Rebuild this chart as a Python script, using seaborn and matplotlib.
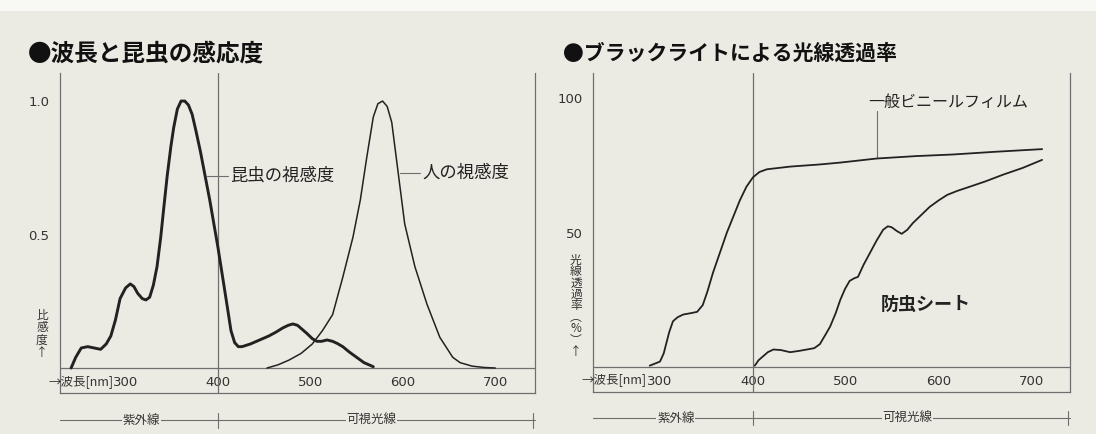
import numpy as np
import pandas as pd
import matplotlib
matplotlib.use("Agg")
import matplotlib.pyplot as plt
from matplotlib.patches import Rectangle
import seaborn as sns

sns.set_style("white")
JP = ["Noto Sans CJK JP", "DejaVu Sans"]
plt.rcParams["font.family"] = JP
plt.rcParams["lines.solid_joinstyle"] = "round"
plt.rcParams["lines.solid_capstyle"] = "round"

# ---------------- data ----------------
insect_nm = [241, 246, 252, 259, 266, 273, 279, 284, 289, 294, 300, 305, 309, 313, 318, 322, 326, 330,
             334, 338, 341, 345, 349, 352, 356, 360, 364, 368, 372, 376, 381, 386, 391, 395, 400, 405,
             410, 414, 418, 422, 426, 435, 445, 455, 463, 470, 476, 481, 486, 491, 496, 502, 507, 512,
             518, 524, 529, 535, 542, 550, 558, 568]
insect_val = [0.0, 0.04, 0.075, 0.08, 0.075, 0.07, 0.09, 0.12, 0.18, 0.26, 0.30, 0.315, 0.305, 0.28, 0.26,
              0.255, 0.265, 0.31, 0.38, 0.49, 0.59, 0.72, 0.83, 0.90, 0.97, 1.0, 1.0, 0.985, 0.95, 0.89,
              0.81, 0.72, 0.63, 0.55, 0.45, 0.34, 0.23, 0.14, 0.095, 0.08, 0.08, 0.09, 0.105, 0.12, 0.135,
              0.15, 0.16, 0.165, 0.16, 0.145, 0.13, 0.11, 0.1, 0.1, 0.105, 0.1, 0.092, 0.08, 0.06, 0.04,
              0.02, 0.005]

human_nm = [453, 465, 477, 490, 502, 513, 524, 535, 546, 554, 561, 568, 573, 578, 583, 588, 595, 602,
            613, 626, 640, 654, 662, 675, 688, 700]
human_val = [0.0, 0.012, 0.03, 0.055, 0.09, 0.14, 0.2, 0.34, 0.49, 0.63, 0.79, 0.94, 0.99, 1.0, 0.98,
             0.92, 0.73, 0.54, 0.38, 0.24, 0.115, 0.04, 0.02, 0.007, 0.002, 0.0]

film_nm = [289, 300, 304, 307, 310, 314, 319, 325, 333, 340, 346, 351, 357, 364, 372, 379, 386, 393,
           400, 407, 415, 440, 472, 494, 533, 575, 615, 660, 711]
film_val = [0.5, 2, 5, 9, 13, 17, 18.5, 19.5, 20, 20.5, 23, 28, 35, 42, 50, 56, 62, 67, 70.5, 72.5,
            73.5, 74.5, 75.3, 76, 77.5, 78.4, 79, 80, 81]

sheet_nm = [402, 406, 411, 416, 422, 430, 440, 450, 458, 466, 472, 478, 483, 489, 494, 499, 504, 509,
            513, 519, 526, 533, 540, 545, 549, 555, 560, 566, 572, 581, 590, 600, 609, 620, 633, 650,
            669, 690, 711]
sheet_val = [0.5, 2.5, 4, 5.5, 6.5, 6.3, 5.5, 6, 6.5, 7, 8.5, 12, 15, 20, 25, 29, 32, 33, 33.5, 38,
             42.5, 47, 51, 52.3, 52, 50.5, 49.5, 51, 53.5, 56.5, 59.5, 62, 64, 65.5, 67, 69, 71.5, 74, 77]

x_ticks = [300, 400, 500, 600, 700]
left_yticks = [0.5, 1.0]
left_yticklabels = ["0.5", "1.0"]
right_yticks = [50, 100]
right_yticklabels = ["50", "100"]

title_left = "●波長と昆虫の感応度"
title_right = "●ブラックライトによる光線透過率"
lab_insect = "昆虫の視感度"
lab_human = "人の視感度"
lab_film = "一般ビニールフィルム"
lab_sheet = "防虫シート"
ylab_left = "比\n感\n度\n↑"
ylab_right = "光\n線\n透\n過\n率\n︵\n%\n︶\n↑"
xlab = "→波長[nm]"
band_uv = "紫外線"
band_vis = "可視光線"

# ---------------- style ----------------
BG = "#ecebe3"
INK = "#222222"
AX = "#6e6e6e"
W, H = 1096, 434

fig = plt.figure(figsize=(W / 100, H / 100), dpi=100, facecolor=BG)
fig.patches.append(Rectangle((0, 1 - 11 / H), 1, 11 / H, transform=fig.transFigure,
                             facecolor="#f8f8f5", edgecolor="none", zorder=0))


def px_axes(x0, x1, ytop, ybot):
    return fig.add_axes([x0 / W, (H - ybot) / H, (x1 - x0) / W, (ybot - ytop) / H])


axL = px_axes(60, 535, 73, 393)
axR = px_axes(593, 1070, 73, 392)


def style_axes(ax, xlim, ylim, yticks, yticklabels):
    ax.set_facecolor(BG)
    ax.set_xlim(*xlim)
    ax.set_ylim(*ylim)
    for s in ["left", "right", "bottom"]:
        ax.spines[s].set_color(AX)
        ax.spines[s].set_linewidth(0.9)
    ax.spines["top"].set_visible(False)
    ax.axhline(0, color=AX, lw=0.9, zorder=1)
    ax.axvline(400, color=AX, lw=0.9, zorder=1)
    ax.set_xticks(x_ticks)
    ax.set_xticklabels([str(v) for v in x_ticks], family="DejaVu Sans")
    ax.tick_params(axis="x", direction="in", length=11, width=0.8, color=AX,
                   pad=-12, labelsize=9.5, labelcolor="#333333")
    ax.set_yticks(yticks)
    ax.set_yticklabels(yticklabels, family="DejaVu Sans")
    ax.tick_params(axis="y", direction="out", length=6, width=0.8, color=AX,
                   pad=1.5, labelsize=9.5, labelcolor="#333333")


style_axes(axL, (229, 743), (-0.0936, 1.105), left_yticks, left_yticklabels)
style_axes(axR, (228, 741), (-9.3, 109.3), right_yticks, right_yticklabels)

# ---------------- curves ----------------
sns.lineplot(x=insect_nm, y=insect_val, ax=axL, estimator=None, sort=False, color=INK, lw=2.1, zorder=3)
sns.lineplot(x=human_nm, y=human_val, ax=axL, estimator=None, sort=False, color=INK, lw=1.1, zorder=3)
sns.lineplot(x=film_nm, y=film_val, ax=axR, estimator=None, sort=False, color=INK, lw=1.3, zorder=3)
sns.lineplot(x=sheet_nm, y=sheet_val, ax=axR, estimator=None, sort=False, color=INK, lw=1.3, zorder=3)
for ax in (axL, axR):
    ax.set_xlabel("")
    ax.set_ylabel("")

# ---------------- annotations ----------------
axL.plot([388, 411], [0.72, 0.72], color=AX, lw=0.8)
axL.text(413, 0.72, lab_insect, fontsize=12.5, color=INK, va="center", ha="left")
axL.plot([597, 619], [0.73, 0.73], color=AX, lw=0.8)
axL.text(621, 0.73, lab_human, fontsize=12.5, color=INK, va="center", ha="left")

axR.plot([533, 533], [77.6, 95], color=AX, lw=0.8)
axR.text(524, 98.5, lab_film, fontsize=11.5, color=INK, va="center", ha="left")
axR.text(537, 23.3, lab_sheet, fontsize=13, color=INK, va="center", ha="left", fontweight="bold")

axL.text(286.5, -0.052, xlab, fontsize=9, color="#333333", ha="right", va="center", clip_on=False)
axR.text(286, -4.8, xlab, fontsize=9, color="#333333", ha="right", va="center", clip_on=False)

fig.text(42 / W, (H - 334) / H, ylab_left, fontsize=8.5, color="#333333", ha="center", va="center",
         linespacing=0.95)
fig.text(576 / W, (H - 306) / H, ylab_right, fontsize=8.5, color="#333333", ha="center", va="center",
         linespacing=0.85)

# band bars (UV / visible)
for ax, yb, dt, xl in [(axL, -0.195, 0.028, (229, 743)), (axR, -19.0, 2.7, (228, 741))]:
    ax.plot([xl[0], xl[1]], [yb, yb], color=AX, lw=0.8, clip_on=False)
    for xv in [400, xl[1] - 2]:
        ax.plot([xv, xv], [yb - dt, yb + dt], color=AX, lw=0.8, clip_on=False)
    ax.text(317, yb, band_uv, fontsize=9, color="#333333", ha="center", va="center", clip_on=False,
            bbox=dict(facecolor=BG, edgecolor="none", pad=0.5))
    ax.text(566, yb, band_vis, fontsize=9, color="#333333", ha="center", va="center", clip_on=False,
            bbox=dict(facecolor=BG, edgecolor="none", pad=0.5))

# titles
fig.text(28 / W, (H - 53) / H, title_left, fontsize=17, fontweight="bold", color="#111111",
         ha="left", va="center")
fig.text(563 / W, (H - 53) / H, title_right, fontsize=15, fontweight="bold", color="#111111",
         ha="left", va="center")

fig.savefig("out.png", dpi=100, facecolor=BG)
